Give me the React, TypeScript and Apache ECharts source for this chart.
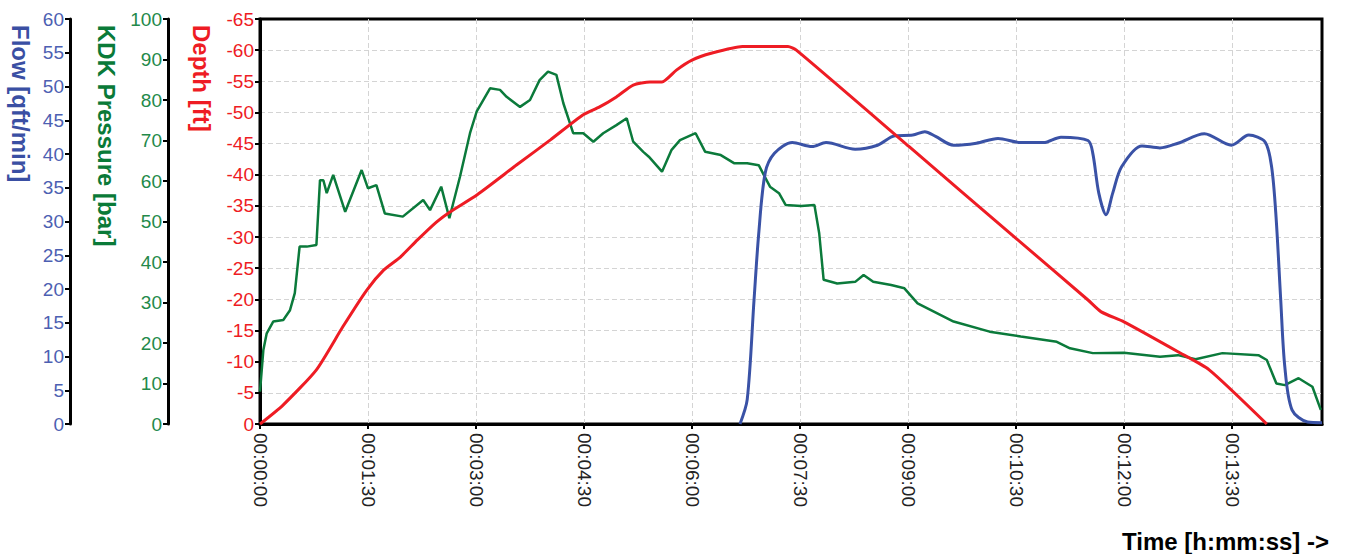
import React, { useEffect, useRef } from "react";
import * as echarts from "echarts";

// Time in seconds
const depthTime = [0, 19, 47, 69, 89, 103, 117, 131, 147, 158, 181, 214, 242, 269, 283, 297, 311, 325, 335, 347, 360, 376, 402, 440, 447, 541, 630, 690, 701, 720, 765, 791, 839];
const depthValues = [0, -3.0, -8.7, -15.6, -21.5, -24.7, -26.8, -29.5, -32.4, -34.0, -36.8, -41.6, -45.6, -49.6, -50.9, -52.5, -54.4, -54.9, -54.9, -56.8, -58.4, -59.5, -60.6, -60.6, -60.0, -44.5, -29.8, -19.9, -18.0, -16.4, -11.6, -8.7, 0];

const flowTime = [400, 406, 411.7, 415.6, 421, 428.7, 443.6, 460, 471.7, 496, 514.6, 529, 544, 554, 563, 578, 597, 615, 634, 653, 667.5, 690, 694, 699, 705, 710.6, 718, 735, 750, 765, 787, 809.5, 824, 837.5, 843, 846.7, 850.6, 854, 860, 873, 885];
const flowValues = [0, 3.6, 18.4, 28.2, 37.2, 40.1, 41.7, 41.1, 41.7, 40.7, 41.3, 42.7, 42.8, 43.3, 42.6, 41.3, 41.6, 42.3, 41.7, 41.7, 42.5, 42.0, 40.1, 34.2, 31.0, 34.2, 38.1, 41.2, 40.9, 41.6, 43.0, 41.3, 42.8, 41.8, 38.1, 30.7, 18.4, 8.5, 2.1, 0.3, 0.2];

const kdkTime = [0, 2.8, 5.6, 11, 19.4, 25, 29, 33, 39, 47, 50, 52.8, 55.6, 61, 71, 84.7, 90, 97, 104, 119, 136, 141.7, 151, 157.8, 166.7, 175, 180.5, 191.7, 200, 205.5, 216.7, 225, 233, 240, 247, 252.8, 261, 269.4, 277.8, 286, 297, 305.6, 311, 319.4, 324, 335, 343, 350, 363, 371, 384, 395, 406, 415.6, 425, 432.5, 438, 451, 462, 466, 469.7, 481, 496, 503, 511, 526, 537, 548, 578, 608, 634, 664, 675, 694, 720, 750, 765, 779.6, 802, 832, 839, 847, 854, 865.5, 877, 884];
const kdkValues = [8, 18.3, 22.4, 25.3, 25.7, 28.1, 32.3, 43.8, 43.8, 44.2, 60.2, 60.2, 57.0, 61.5, 52.4, 62.7, 58.2, 59.0, 52.0, 51.2, 55.3, 52.8, 58.6, 50.8, 61.1, 71.8, 77.1, 82.9, 82.5, 80.8, 78.3, 80.0, 84.9, 87.0, 86.2, 79.2, 71.8, 71.8, 69.7, 71.8, 73.8, 75.5, 69.7, 67.2, 66.0, 62.3, 67.7, 70.1, 71.8, 67.2, 66.4, 64.4, 64.4, 63.9, 58.6, 57.0, 54.1, 53.8, 54.1, 47.1, 35.6, 34.7, 35.1, 36.8, 35.1, 34.3, 33.5, 29.8, 25.3, 22.8, 21.6, 20.3, 18.7, 17.5, 17.6, 16.6, 17.0, 16.0, 17.5, 17.0, 15.8, 10.0, 9.6, 11.3, 9.2, 3.5];

const timeMin = 0;
const timeMax = 885;
const timeStep = 90;

const axisNames = { flow: "Flow [qft/min]", kdk: "KDK Pressure [bar]", depth: "Depth [ft]", time: "Time [h:mm:ss] ->" };

const RED = "#EE1C24";
const GREEN = "#0B7A3B";
const BLUE = "#3A52A6";
const FONT = "Liberation Sans, Arial, sans-serif";

const pad = (n: number) => (n < 10 ? "0" + n : "" + n);
const fmtTime = (v: number) => {
  const s = Math.round(v);
  const h = Math.floor(s / 3600);
  const m = Math.floor((s % 3600) / 60);
  const sec = s % 60;
  return pad(h) + ":" + pad(m) + ":" + pad(sec);
};

const zip = (t: number[], v: number[]) => t.map((x, i) => [x, v[i]]);

const GRID_LINE = { show: true, showMinLine: false, showMaxLine: false, lineStyle: { color: "#d4d4d4", type: [5, 3], width: 1 } };

export default function App() {
  const ref = useRef<HTMLDivElement>(null);
  useEffect(() => {
    if (!ref.current) return;
    const chart = echarts.init(ref.current, undefined, { renderer: "svg" });
    const axisCommon = (color: string) => ({
      type: "value" as const,
      position: "left" as const,
      axisLine: { show: true, onZero: false, lineStyle: { color: "#000", width: 3 } },
      axisTick: { show: true, length: 5, lineStyle: { color: "#000", width: 2 } },
      axisLabel: { color, fontSize: 19, fontFamily: FONT, margin: 6 },
    });
    chart.setOption({
      animation: false,
      backgroundColor: "#fff",
      grid: {
        left: 260,
        top: 19,
        right: 24,
        bottom: 130,
        show: true,
        borderColor: "#000",
        borderWidth: 3,
        backgroundColor: "transparent",
      },
      xAxis: {
        type: "value",
        min: timeMin,
        max: timeMax,
        interval: timeStep,
        axisLine: { show: true, onZero: false, lineStyle: { color: "#000", width: 3 } },
        axisTick: { show: true, length: 5, lineStyle: { color: "#000", width: 2 } },
        axisLabel: {
          rotate: -90,
          color: "#222",
          fontSize: 19,
          fontFamily: FONT,
          margin: 9,
          showMaxLabel: false,
          formatter: (v: number) => (v % timeStep === 0 ? fmtTime(v) : ""),
        },
        splitLine: GRID_LINE,
      },
      yAxis: [
        {
          ...axisCommon(RED),
          min: -65,
          max: 0,
          interval: 5,
          inverse: true,
          offset: 0,
          splitLine: GRID_LINE,
        },
        {
          ...axisCommon("#23894A"),
          min: 0,
          max: 100,
          interval: 10,
          offset: 92,
          splitLine: { show: false },
        },
        {
          ...axisCommon("#4D5FB2"),
          min: 0,
          max: 60,
          interval: 5,
          offset: 190,
          splitLine: { show: false },
        },
      ],
      graphic: [
        {
          type: "text",
          x: 20,
          y: 25,
          rotation: -Math.PI / 2,
          style: { text: axisNames.flow, fill: "#3A4FA3", font: `bold 24px ${FONT}`, textAlign: "left", textVerticalAlign: "middle" },
        },
        {
          type: "text",
          x: 106,
          y: 25,
          rotation: -Math.PI / 2,
          style: { text: axisNames.kdk, fill: "#0A7A38", font: `bold 24px ${FONT}`, textAlign: "left", textVerticalAlign: "middle" },
        },
        {
          type: "text",
          x: 201,
          y: 25,
          rotation: -Math.PI / 2,
          style: { text: axisNames.depth, fill: RED, font: `bold 24px ${FONT}`, textAlign: "left", textVerticalAlign: "middle" },
        },
        {
          type: "text",
          x: 1329,
          y: 541,
          style: { text: axisNames.time, fill: "#000", font: `bold 24px ${FONT}`, textAlign: "right", textVerticalAlign: "middle" },
        },
      ],
      series: [
        {
          type: "line",
          yAxisIndex: 1,
          data: zip(kdkTime, kdkValues),
          showSymbol: false,
          symbol: "none",
          lineStyle: { color: GREEN, width: 2.5 },
          clip: true,
        },
        {
          type: "line",
          yAxisIndex: 2,
          data: zip(flowTime, flowValues),
          showSymbol: false,
          symbol: "none",
          smooth: 0.3,
          lineStyle: { color: BLUE, width: 3 },
          clip: true,
        },
        {
          type: "line",
          yAxisIndex: 0,
          data: zip(depthTime, depthValues),
          showSymbol: false,
          symbol: "none",
          smooth: 0.2,
          lineStyle: { color: RED, width: 3 },
          clip: true,
        },
      ],
    });
    return () => chart.dispose();
  }, []);
  return <div ref={ref} style={{ position: "fixed", left: 0, top: 0, width: 1346, height: 554 }} />;
}
